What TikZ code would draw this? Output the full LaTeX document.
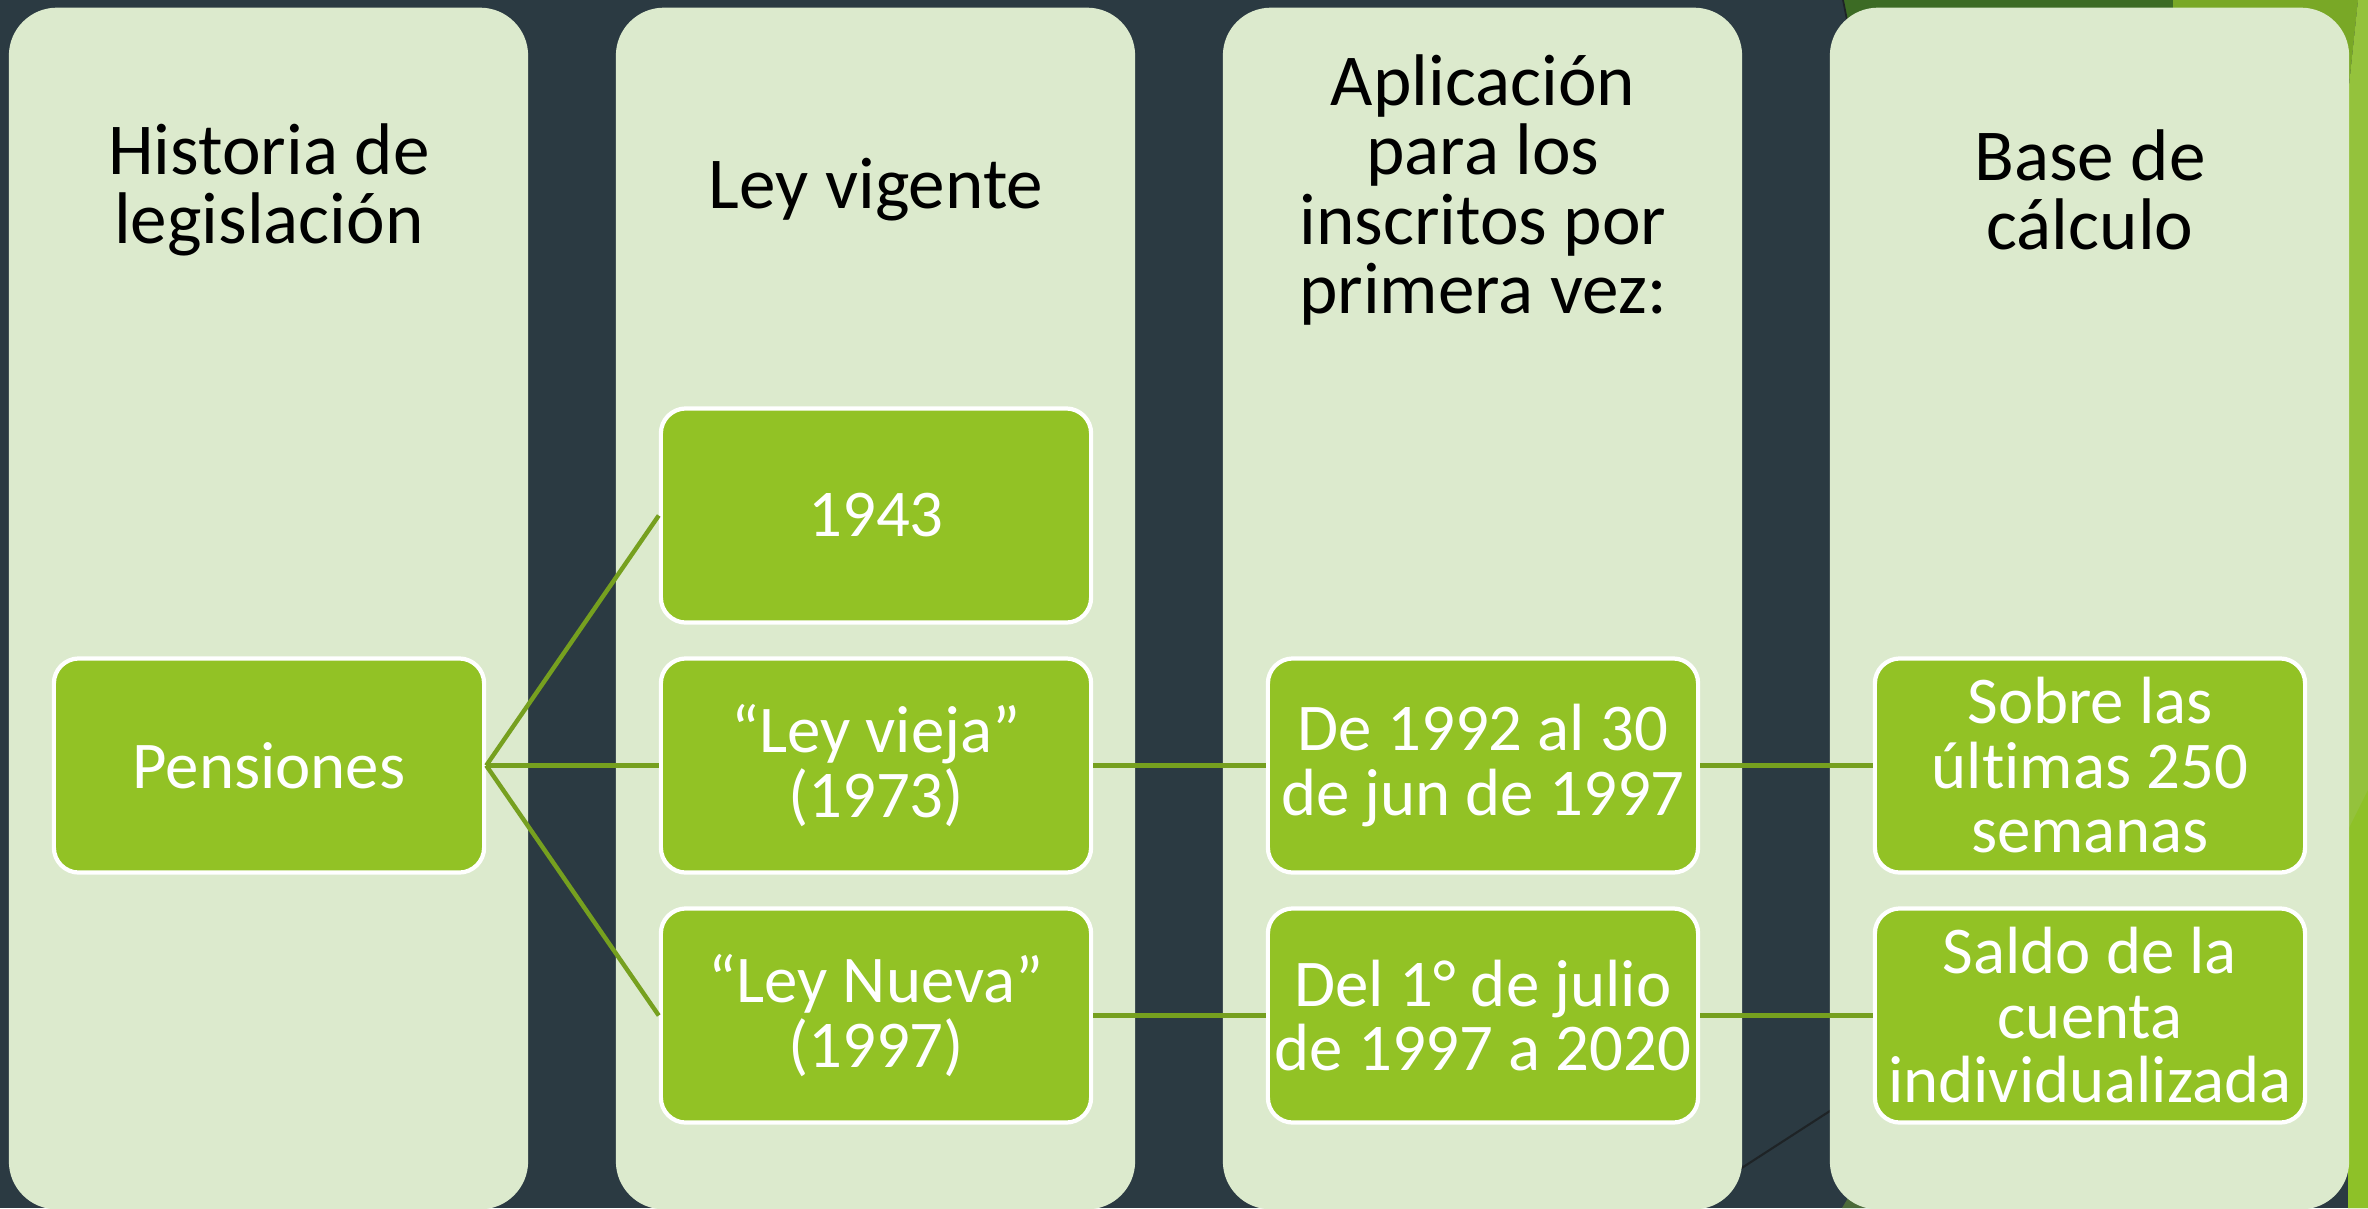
\documentclass[tikz,border=0pt]{standalone}
\usepackage{fontspec}
\setmainfont{Carlito}[Ligatures=NoCommon]
\definecolor{bg}{RGB}{43,58,66}
\definecolor{colfill}{RGB}{220,234,205}
\definecolor{boxg}{RGB}{146,194,37}
\definecolor{conng}{RGB}{118,160,31}
\definecolor{dkgreen}{RGB}{60,107,36}
\definecolor{olive}{RGB}{121,168,38}
\definecolor{brightg}{RGB}{148,194,60}
\definecolor{brightg2}{RGB}{142,193,40}
\definecolor{dkolive}{RGB}{76,107,58}
\definecolor{thinline}{RGB}{30,35,38}
\begin{document}
\begin{tikzpicture}[x=0.01cm,y=-0.01cm,
  colbox/.style={fill=colfill, rounded corners=0.48cm, minimum width=5.19cm, minimum height=12.01cm, inner sep=0pt, draw=none},
  gbox/.style={draw=white, line width=1.2pt, fill=boxg, rounded corners=0.25cm, minimum width=4.30cm, minimum height=2.14cm, inner sep=0pt, text=white, align=center, font=\fontsize{19}{18.35}\selectfont},
  hdr/.style={text=black, align=center, inner sep=0pt, font=\fontsize{20.8}{19.8}\selectfont},
  conn/.style={draw=conng, line width=1.25pt}]
\useasboundingbox (0,0) rectangle (2368,1208);
\fill[bg] (0,0) rectangle (2368,1208);
% decorative theme shapes
\fill[dkgreen] (1843,0) -- (2173,0) -- (2173,300) -- (1903,300) -- cycle;
\draw[thinline, line width=0.5pt] (1843,0) -- (1863,100);
\fill[olive] (2173,0) -- (2358,0) -- (2348,95) -- (2348,300) -- (2173,300) -- cycle;
\fill[brightg] (2358,0) -- (2368,0) -- (2368,1208) -- (2348,1208) -- (2348,95) -- cycle;
\fill[brightg2] (2348,830) -- (2368,790) -- (2368,1208) -- (2348,1208) -- cycle;
\fill[dkolive] (1842,1208) -- (1854,1188) -- (1900,1188) -- (1900,1208) -- cycle;
\draw[thinline, line width=0.6pt] (1720,1182) -- (1850,1098);
% columns
\node[colbox] (c1) at (268.5,608.5) {};
\node[colbox] (c2) at (875.5,608.5) {};
\node[colbox] (c3) at (1482.5,608.5) {};
\node[colbox] (c4) at (2089.5,608.5) {};
% headers
\node[hdr] (h1) at (269,190) {Historia de\\legislación};
\node[hdr] (h2) at (876,190) {Ley vigente};
\node[hdr] (h3) at (1483,190) {Aplicación\\para los\\inscritos por\\primera vez:};
\node[hdr] (h4) at (2090,190) {Base de\\cálculo};
% boxes
\node[gbox] (pen) at (269,765.5) {Pensiones};
\node[gbox] (y43) at (876,515.5) {1943};
\node[gbox] (vie) at (876,765.5) {“Ley vieja”\\(1973)};
\node[gbox] (nue) at (876,1015.5) {“Ley Nueva”\\(1997)};
\node[gbox] (d92) at (1483,765.5) {De 1992 al 30\\de jun de 1997};
\node[gbox] (d97) at (1483,1015.5) {Del 1° de julio\\de 1997 a 2020};
\node[gbox] (sob) at (2090,765.5) {Sobre las\\últimas 250\\semanas};
\node[gbox] (sal) at (2090,1015.5) {Saldo de la\\cuenta\\individualizada};
% connectors
\draw[conn] (pen.east) -- (y43.west);
\draw[conn] (pen.east) -- (vie.west);
\draw[conn] (pen.east) -- (nue.west);
\draw[conn] (vie.east) -- (d92.west);
\draw[conn] (d92.east) -- (sob.west);
\draw[conn] (nue.east) -- (d97.west);
\draw[conn] (d97.east) -- (sal.west);
\end{tikzpicture}
\end{document}
